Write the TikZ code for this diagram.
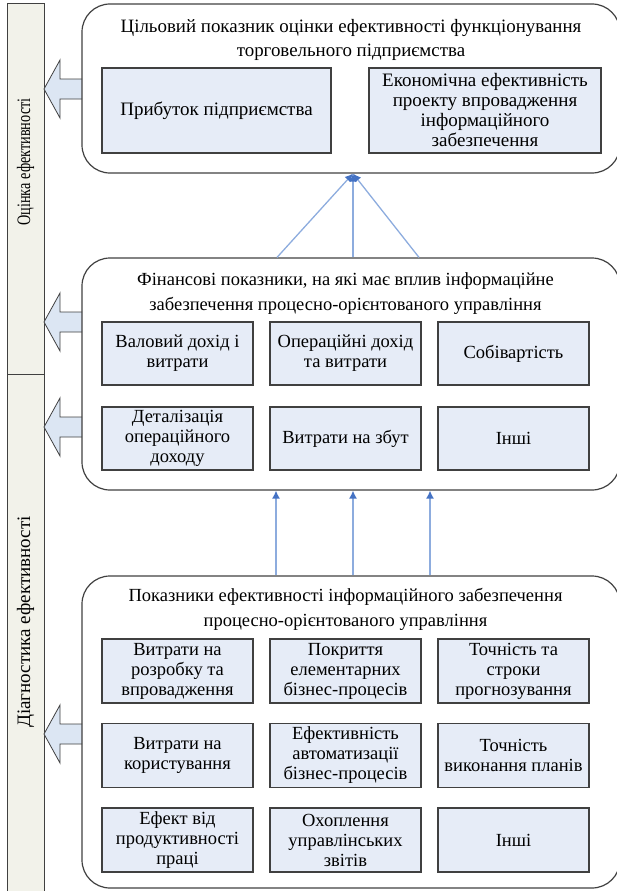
\documentclass[tikz,border=0pt]{standalone}
\usepackage{fontspec}
\setmainfont{Liberation Serif}
\usetikzlibrary{arrows.meta,calc,positioning}
\definecolor{boxfill}{RGB}{230,236,247}
\definecolor{barfill}{RGB}{242,242,234}
\definecolor{arrfill}{RGB}{220,230,243}
\definecolor{linkblue}{RGB}{141,172,222}
\definecolor{tipblue}{RGB}{68,114,196}
\definecolor{edge}{RGB}{64,64,64}

\begin{document}
\begin{tikzpicture}[x=1pt,y=-1pt,
  panel/.style={draw=edge,line width=1.2pt,rounded corners=28pt,minimum width=538pt,inner sep=0pt},
  cell/.style={draw=edge,line width=1.2pt,fill=boxfill,align=center,inner sep=0pt,
    minimum width=151pt,font=\fontsize{18.5}{20}\selectfont},
  title/.style={align=center,font=\fontsize{18.5}{24.5}\selectfont},
  bar/.style={draw=edge,line width=1pt,fill=barfill,minimum width=37pt,inner sep=0pt},
  bartext/.style={rotate=90,font=\fontsize{19}{24}\selectfont},
  link/.style={linkblue,line width=1.3pt,-{Latex[length=8pt,width=8pt,color=tipblue]}}]
  \useasboundingbox (0,0) rectangle (617,891);
  \clip (0,0) rectangle (617,891);

  \node[bar,minimum height=370pt] (evalbar) at (25.5,189) {};
  \node[bar,minimum height=521pt] (diagbar) at (25.5,634.5) {};
  \node[bartext,xscale=0.75] (evaltxt) at (25.5,162) {Оцінка ефективності};
  \node[bartext] (diagtxt) at (25.5,622) {Діагностика ефективності};

  \foreach \y in {89,322,427,734}
    \draw[edge,fill=arrfill,line width=0.8pt] (82,{\y-10}) -- (60,{\y-10}) -- (60,{\y-29})
      -- (44,\y) -- (60,{\y+29}) -- (60,{\y+10}) -- (82,{\y+10});

  \node[panel,minimum height=169pt] (goal) at (351,88.5) {};
  \node[panel,minimum height=232pt] (fin) at (351,374) {};
  \node[panel,minimum height=312pt] (diag) at (351,732) {};

  \node[title,font=\fontsize{18.9}{24}\selectfont] (goalt) at (351,40) {Цільовий показник оцінки ефективності функціонування\\торговельного підприємства};
  \node[title] (fint) at (345.5,293.5) {Фінансові показники, на які має вплив інформаційне\\забезпечення процесно-орієнтованого управління};
  \node[title] (diagt) at (345.5,609.5) {Показники ефективності інформаційного забезпечення\\процесно-орієнтованого управління};

  \node[cell,minimum width=229pt,minimum height=85pt,font=\fontsize{19}{20}\selectfont] (profit) at (216.5,110.5) {Прибуток підприємства};
  \node[cell,minimum width=232pt,minimum height=85pt,font=\fontsize{19}{20}\selectfont] (econ) at (485,110.5) {Економічна ефективність\\проекту впровадження\\інформаційного\\забезпечення};

  \node[cell,minimum height=63pt] (gross) at (177.5,353.5) {Валовий дохід і\\витрати};
  \node[cell,minimum height=63pt] (oper) at (345.5,353.5) {Операційні дохід\\та витрати};
  \node[cell,minimum height=63pt] (cost) at (513.5,353.5) {Собівартість};
  \node[cell,minimum height=63pt] (detail) at (177.5,438.5) {Деталізація\\операційного\\доходу};
  \node[cell,minimum height=63pt] (sales) at (345.5,438.5) {Витрати на збут};
  \node[cell,minimum height=63pt] (other) at (513.5,438.5) {Інші};

  \node[cell,minimum height=64pt] (dev) at (177.5,671) {Витрати на\\розробку та\\впровадження};
  \node[cell,minimum height=64pt] (cover) at (345.5,671) {Покриття\\елементарних\\бізнес-процесів};
  \node[cell,minimum height=64pt] (fcast) at (513.5,671) {Точність та\\строки\\прогнозування};
  \node[cell,minimum height=64pt] (usage) at (177.5,755.5) {Витрати на\\користування};
  \node[cell,minimum height=64pt] (auto) at (345.5,755.5) {Ефективність\\автоматизації\\бізнес-процесів};
  \node[cell,minimum height=64pt] (plans) at (513.5,755.5) {Точність\\виконання планів};
  \node[cell,minimum height=64pt] (prod) at (177.5,840) {Ефект від\\продуктивності\\праці};
  \node[cell,minimum height=64pt] (reps) at (345.5,840) {Охоплення\\управлінських\\звітів};
  \node[cell,minimum height=64pt] (rest) at (513.5,840) {Інші};

  \foreach \dx in {-74,2,68}
    \draw[link] ($(fin.north)+(\dx,0)$) -- ($(goal.south)+(2,0)$);
  \foreach \dx in {-75,2,79}
    \draw[link] ($(diag.north)+(\dx,0)$) -- ($(fin.south)+(\dx,0)$);
\end{tikzpicture}
\end{document}
